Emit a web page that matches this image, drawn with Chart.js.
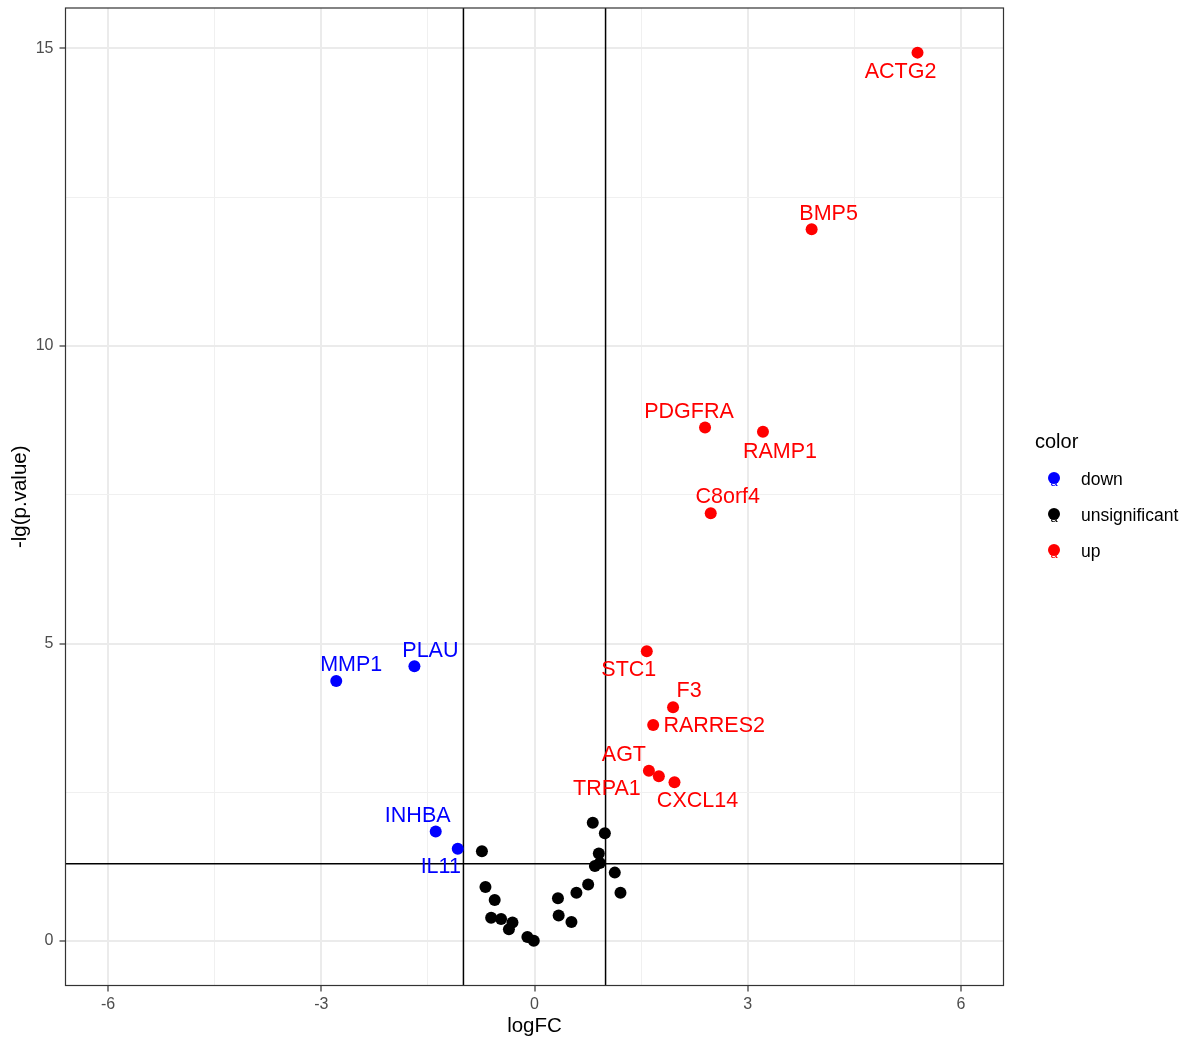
<!DOCTYPE html>
<html>
<head>
<meta charset="utf-8">
<style>
  html, body { margin: 0; padding: 0; background: #fff; }
  #wrap { position: relative; width: 1192px; height: 1046px; }
</style>
</head>
<body>
<div id="wrap">
  <canvas id="volcano"></canvas>
</div>

<script src="https://cdn.jsdelivr.net/npm/chart.js@4.4.1/dist/chart.umd.min.js"></script>
<script>
  const upGenes  = ['ACTG2', 'BMP5', 'PDGFRA', 'RAMP1', 'C8orf4', 'STC1', 'F3', 'RARRES2', 'AGT', 'TRPA1', 'CXCL14'];
  const upFC     = [5.39, 3.90, 2.40, 3.215, 2.48, 1.58, 1.95, 1.67, 1.61, 1.75, 1.97];
  const upLgP    = [14.93, 11.96, 8.63, 8.56, 7.19, 4.87, 3.93, 3.63, 2.86, 2.77, 2.67];

  const downGenes = ['MMP1', 'PLAU', 'INHBA', 'IL11'];
  const downFC    = [-2.79, -1.69, -1.39, -1.08];
  const downLgP   = [4.37, 4.62, 1.84, 1.55];

  const nsFC  = [-0.74, -0.69, -0.56, -0.61, -0.47, -0.31, -0.36, -0.10, -0.01, 0.33, 0.34,
                 0.52, 0.59, 0.755, 0.82, 0.99, 0.905, 0.92, 0.85, 1.13, 1.21];
  const nsLgP = [1.51, 0.91, 0.69, 0.39, 0.37, 0.31, 0.20, 0.07, 0.005, 0.72, 0.43,
                 0.32, 0.81, 0.95, 1.99, 1.81, 1.47, 1.31, 1.26, 1.15, 0.81];

  const fcCut = [-1, 1];
  const pCut = -Math.log10(0.05);

  const xTicks = [-6, -3, 0, 3, 6];
  const yTicks = [0, 5, 10, 15];
  const groupNames = ['down', 'unsignificant', 'up'];

  const FONT = '"Liberation Sans", Arial, sans-serif';

  const toPts = (xs, ys) => xs.map((x, i) => ({ x: x, y: ys[i] }));

  // where each label sits relative to its point (px), like ggrepel put them
  const labelShift = {
    ACTG2: [-17, 19], BMP5: [17, -15], PDGFRA: [-16, -15], RAMP1: [17, 20],
    C8orf4: [17, -16], STC1: [-18, 19], F3: [16, -16], RARRES2: [61, 1],
    AGT: [-25, -16], TRPA1: [-52, 13], CXCL14: [23, 19],
    MMP1: [15, -16], PLAU: [16, -15], INHBA: [-18, -15], IL11: [-17, 18]
  };

  const cutLines = {
    id: 'cutLines',
    beforeDatasetsDraw(chart) {
      const { ctx, chartArea: a, scales: { x, y } } = chart;
      ctx.save();
      ctx.beginPath();
      ctx.rect(a.left, a.top, a.right - a.left, a.bottom - a.top);
      ctx.clip();
      ctx.strokeStyle = '#000';
      ctx.lineWidth = 1.5;
      fcCut.forEach(v => {
        const px = x.getPixelForValue(v);
        ctx.beginPath(); ctx.moveTo(px, a.top); ctx.lineTo(px, a.bottom); ctx.stroke();
      });
      const py = y.getPixelForValue(pCut);
      ctx.beginPath(); ctx.moveTo(a.left, py); ctx.lineTo(a.right, py); ctx.stroke();
      ctx.restore();
    }
  };

  const geneLabels = {
    id: 'geneLabels',
    afterDatasetsDraw(chart) {
      const { ctx } = chart;
      ctx.save();
      ctx.font = '21.5px ' + FONT;
      ctx.textAlign = 'center';
      ctx.textBaseline = 'middle';
      [0, 2].forEach(di => {
        const ds = chart.data.datasets[di];
        const meta = chart.getDatasetMeta(di);
        meta.data.forEach((pt, i) => {
          const name = ds.genes[i];
          const s = labelShift[name] || [0, -16];
          ctx.fillStyle = ds.backgroundColor;
          ctx.fillText(name, pt.x + s[0], pt.y + s[1]);
        });
      });
      ctx.restore();
    }
  };

  const frameAndKey = {
    id: 'frameAndKey',
    afterDraw(chart) {
      const { ctx, chartArea: a } = chart;
      ctx.save();
      ctx.strokeStyle = '#333';
      ctx.lineWidth = 1.2;
      ctx.strokeRect(a.left, a.top, a.right - a.left, a.bottom - a.top);

      // legend
      ctx.fillStyle = '#000';
      ctx.font = '20px ' + FONT;
      ctx.textAlign = 'left';
      ctx.textBaseline = 'middle';
      ctx.fillText('color', 1035, 442);
      const cols = ['#0000FF', '#000000', '#FF0000'];
      groupNames.forEach((g, i) => {
        const cy = 478 + i * 36;
        ctx.fillStyle = cols[i];
        ctx.beginPath(); ctx.arc(1054, cy, 6, 0, Math.PI * 2); ctx.fill();
        ctx.font = '13px ' + FONT;
        ctx.textAlign = 'center';
        ctx.fillText('a', 1054, cy + 4);
        ctx.fillStyle = '#000';
        ctx.font = '17.5px ' + FONT;
        ctx.textAlign = 'left';
        ctx.fillText(g, 1081, cy + 2);
      });
      ctx.restore();
    }
  };

  const gridCol = (major) => (c) => major.includes(c.tick.value) ? '#EBEBEB' : '#F0F0F0';
  const gridW = (major) => (c) => major.includes(c.tick.value) ? 2 : 1;
  const tickCol = (major) => (c) => major.includes(c.tick.value) ? '#333333' : 'rgba(0,0,0,0)';

  new Chart(document.getElementById('volcano'), {
    type: 'scatter',
    data: {
      datasets: [
        { label: 'down', genes: downGenes, data: toPts(downFC, downLgP), backgroundColor: '#0000FF' },
        { label: 'unsignificant', data: toPts(nsFC, nsLgP), backgroundColor: '#000000' },
        { label: 'up', genes: upGenes, data: toPts(upFC, upLgP), backgroundColor: '#FF0000' }
      ]
    },
    options: {
      responsive: true,
      maintainAspectRatio: false,
      animation: false,
      layout: { padding: { left: 0, top: 8, right: 188.5, bottom: 0 } },
      elements: { point: { radius: 6, borderWidth: 0, hoverRadius: 6 } },
      scales: {
        x: {
          type: 'linear',
          min: -6.6, max: 6.6,
          afterFit: s => { s.height = 60.5; s.paddingLeft = 0; s.paddingRight = 0; },
          border: { display: false },
          grid: { color: gridCol(xTicks), lineWidth: gridW(xTicks), tickColor: tickCol(xTicks), tickWidth: 1.2, tickLength: 6 },
          ticks: {
            stepSize: 1.5, includeBounds: false, autoSkip: false, maxRotation: 0, padding: 3,
            color: '#4D4D4D', font: { family: FONT, size: 16 },
            callback: v => xTicks.includes(v) ? String(v) : ''
          },
          title: { display: true, text: 'logFC', color: '#000', font: { family: FONT, size: 20.5 }, padding: { top: 0, bottom: 7 } }
        },
        y: {
          type: 'linear',
          min: -0.747, max: 15.68,
          afterFit: s => { s.width = 65.5; s.paddingTop = 0; s.paddingBottom = 0; },
          border: { display: false },
          grid: { color: gridCol(yTicks), lineWidth: gridW(yTicks), tickColor: tickCol(yTicks), tickWidth: 1.2, tickLength: 6 },
          ticks: {
            stepSize: 2.5, includeBounds: false, autoSkip: false, padding: 6,
            color: '#4D4D4D', font: { family: FONT, size: 16 },
            callback: v => yTicks.includes(v) ? String(v) : ''
          },
          title: { display: true, text: '-lg(p.value)', color: '#000', font: { family: FONT, size: 20.5 }, padding: { top: 8, bottom: 0 } }
        }
      },
      plugins: {
        legend: { display: false },
        tooltip: { enabled: false }
      }
    },
    plugins: [cutLines, geneLabels, frameAndKey]
  });
</script>
</body>
</html>
